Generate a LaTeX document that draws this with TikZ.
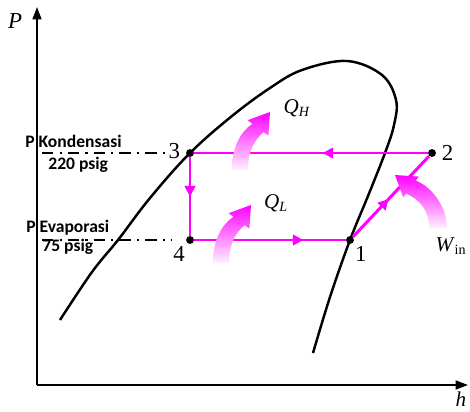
\documentclass[tikz,border=0pt]{standalone}
\usepackage{fontspec}
\setmainfont{Liberation Serif}
\newfontfamily\levelfont{Carlito}
\usetikzlibrary{positioning,arrows.meta,decorations.markings,calc}
\definecolor{cyclemag}{RGB}{255,0,255}

\tikzset{
  axis/.style={line width=1.1pt, -{Triangle[length=7pt,width=5pt]}},
  dome/.style={line width=1.4pt},
  cycleline/.style={draw=cyclemag, color=cyclemag, line width=1.7pt},
  midarrow/.style={postaction={decorate}, decoration={markings, mark=at position #1 with {\arrow{Triangle[length=6pt,width=6pt]}}}},
  statedot/.style={circle, fill=black, inner sep=0pt, minimum size=4.5pt},
  num/.style={font=\fontsize{13}{13}\selectfont, inner sep=0pt},
  qlabel/.style={font=\fontsize{12}{12}\selectfont, inner sep=0pt},
  plevel/.style={font=\levelfont\bfseries\fontsize{10}{11}\selectfont, inner sep=0pt, anchor=base west},
  levelline/.style={line width=1.1pt, dash pattern=on 6.5pt off 3.5pt on 1.2pt off 3.5pt},
  heat/.style={top color=cyclemag, bottom color=cyclemag!6, draw=none},
  heatarrow/.pic={
    \shade[heat] (-8,0) .. controls (-8,-22) and (0,-38) .. (12.4,-46.2) -- (7.6,-49.8)
      -- (30,-58) -- (28.4,-34.2) -- (23.6,-37.8) .. controls (14,-30) and (8,-18) .. (8,0) -- cycle;
  }
}

\begin{document}
\begin{tikzpicture}[x=0.02cm, y=-0.02cm]
    \useasboundingbox (0,0) rectangle (470,412);

    % axes
    \coordinate (origin) at (37,385);
    \coordinate (ptop) at (37,7);
    \coordinate (hend) at (468,385);
    \draw[axis] (origin) -- (ptop);
    \draw[axis] (origin) -- (hend);
    \node[qlabel, font=\itshape\fontsize{13}{13}\selectfont] (plab) at (15,21) {P};
    \node[qlabel, font=\itshape\fontsize{12}{12}\selectfont] (hlab) at (461,399) {h};

    % saturation dome
    \draw[dome] plot[smooth, tension=0.6] coordinates {(60,320) (92,272) (118,240) (150,198) (190,153)
        (232,116) (270,88) (302,70) (347,61) (382,75) (396,100) (394,125) (385,153) (368,196)
        (350,240) (330,297) (313,353)};

    % states
    \node[statedot] (s3) at (190,153) {};
    \node[statedot] (s2) at (432,153) {};
    \node[statedot] (s4) at (190,240) {};
    \node[statedot] (s1) at (350,240) {};
    \node[num, left=3pt of s3, yshift=1pt] (n3) {3};
    \node[num, right=3pt of s2] (n2) {2};
    \node[num, below left=2pt and 1pt of s4] (n4) {4};
    \node[num, below right=2pt and 1pt of s1] (n1) {1};

    % pressure levels
    \coordinate (kl) at (42,153);
    \coordinate (el) at (42,240);
    \draw[levelline, shorten >=12pt] (kl) -- (s3);
    \draw[levelline, shorten >=8pt] (el) -- (s4);
    \node[plevel] (pk) at (25,148) {P Kondensasi};
    \node[plevel] (pkv) at (48,170) {220 psig};
    \node[plevel] (pe) at (26,232) {P Evaporasi};
    \node[plevel] (pev) at (42,251) {75 psig};

    % cycle
    \draw[cycleline, midarrow=0.5] (s3) -- (s4);
    \draw[cycleline, midarrow=0.72] (s4) -- (s1);
    \draw[cycleline, midarrow=0.47] (s1) -- (s2);
    \draw[cycleline, midarrow=0.45] (s2) -- (s3);

    % heat and work
    \pic at (240,170) {heatarrow};
    \pic at (221,263) {heatarrow};
    \shade[heat] (447,228) .. controls (447,205) and (430,186) .. (415.8,180.6) -- (418.8,176.6)
      -- (395,175) -- (403.2,197.4) -- (406.2,193.4) .. controls (420,200) and (429,210) .. (429,228) -- cycle;
    \node[qlabel] (qh) at (297,108) {\textit{Q}\textsubscript{\textit{H}}};
    \node[qlabel] (ql) at (276,203) {\textit{Q}\textsubscript{\textit{L}}};
    \node[qlabel] (win) at (451,246) {\textit{W}\textsubscript{in}};
\end{tikzpicture}
\end{document}
